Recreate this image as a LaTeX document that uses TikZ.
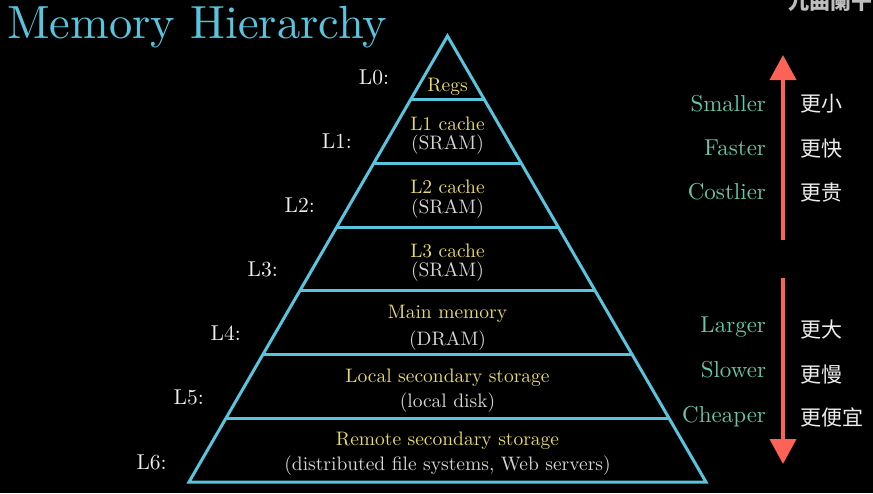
\documentclass[tikz,border=0pt]{standalone}
\usepackage{fontspec}
\setmainfont{lmroman10}[Extension=.otf, UprightFont=*-regular, BoldFont=*-bold, ItalicFont=*-italic, BoldItalicFont=*-bolditalic]
\newfontfamily\cjk{Noto Sans CJK SC}
\usetikzlibrary{arrows.meta}
\definecolor{mblue}{HTML}{58C4DD}
\definecolor{myellow}{HTML}{E8DA68}
\definecolor{mteal}{HTML}{64C7AB}
\definecolor{mred}{HTML}{FC6255}
\definecolor{mgray}{HTML}{D6D6D6}
\definecolor{mwhite}{HTML}{EDEDED}
\definecolor{wmark}{HTML}{BDBDBD}
\begin{document}
\begin{tikzpicture}[x=1pt,y=-1pt,
  every node/.style={inner sep=0pt, outer sep=0pt},
  lvlname/.style={anchor=base, text=myellow, font=\fontsize{19.5}{23}\selectfont},
  lvltech/.style={anchor=base, text=mgray, font=\fontsize{19.5}{23}\selectfont},
  lvllabel/.style={anchor=base east, text=mwhite, font=\fontsize{21.5}{25}\selectfont},
  prop/.style={anchor=base east, text=mteal, font=\fontsize{23}{27}\selectfont},
  zh/.style={anchor=west, text=mwhite, font=\cjk\fontsize{21}{25}\selectfont},
  pyrline/.style={draw=mblue, line width=3pt},
  bigarrow/.style={draw=mred, line width=4pt, -{Triangle[width=26pt,length=25pt]}}
]
\fill[black] (0,0) rectangle (873,493);
\useasboundingbox (0,0) rectangle (873,493);
\clip (0,0) rectangle (873,493);

% title and watermark
\node[anchor=base west, text=mblue, font=\fontsize{46.5}{52}\selectfont] (title) at (7,38.5) {Memory Hierarchy};
\node[anchor=south west, text=wmark, font=\cjk\bfseries\fontsize{21}{25}\selectfont] (wm) at (788,12) {九曲阑干};

% pyramid
\coordinate (apex) at (447.5,36);
\coordinate (bl) at (189,482);
\coordinate (br) at (706,482);
\draw[pyrline, line join=miter] (bl) -- (apex) -- (br) -- cycle;
\foreach \y in {99.71,163.43,227.14,290.86,354.57,418.29} {
  \pgfmathsetmacro\hw{0.5796*(\y-36)}
  \draw[pyrline] (447.5-\hw,\y) -- (447.5+\hw,\y);
}

% level contents
\node[lvlname] (n0) at (447.5,91) {Regs};
\node[lvlname] (n1) at (447.5,130) {L1 cache};
\node[lvltech] (t1) at (447.5,149.5) {(SRAM)};
\node[lvlname] (n2) at (447.5,193.5) {L2 cache};
\node[lvltech] (t2) at (447.5,213) {(SRAM)};
\node[lvlname] (n3) at (447.5,257) {L3 cache};
\node[lvltech] (t3) at (447.5,276.5) {(SRAM)};
\node[lvlname] (n4) at (447.5,318.5) {Main memory};
\node[lvltech] (t4) at (447.5,345) {(DRAM)};
\node[lvlname] (n5) at (447.5,382) {Local secondary storage};
\node[lvltech] (t5) at (447.5,407) {(local disk)};
\node[lvlname] (n6) at (447.5,445.5) {Remote secondary storage};
\node[lvltech] (t6) at (447.5,470) {(distributed file systems, Web servers)};

% level labels
\foreach \k in {0,...,6} {
  \node[lvllabel] (L\k) at (389-37.05*\k, 84+64.17*\k) {L\k:};
}

% arrows
\coordinate (upS) at (783,240);
\coordinate (upE) at (783,55);
\coordinate (dnS) at (783,278);
\coordinate (dnE) at (783,464);
\draw[bigarrow] (upS) -- (upE);
\draw[bigarrow] (dnS) -- (dnE);

% properties
\node[prop] (p1) at (766,111) {Smaller};
\node[prop] (p2) at (766,155) {Faster};
\node[prop] (p3) at (766,199) {Costlier};
\node[prop] (p4) at (766,332) {Larger};
\node[prop] (p5) at (766,377) {Slower};
\node[prop] (p6) at (766,422) {Cheaper};
\node[zh] (z1) at (800,104) {更小};
\node[zh] (z2) at (800,148.5) {更快};
\node[zh] (z3) at (800,192.5) {更贵};
\node[zh] (z4) at (800,330) {更大};
\node[zh] (z5) at (800,375) {更慢};
\node[zh] (z6) at (800,417) {更便宜};
\end{tikzpicture}
\end{document}
